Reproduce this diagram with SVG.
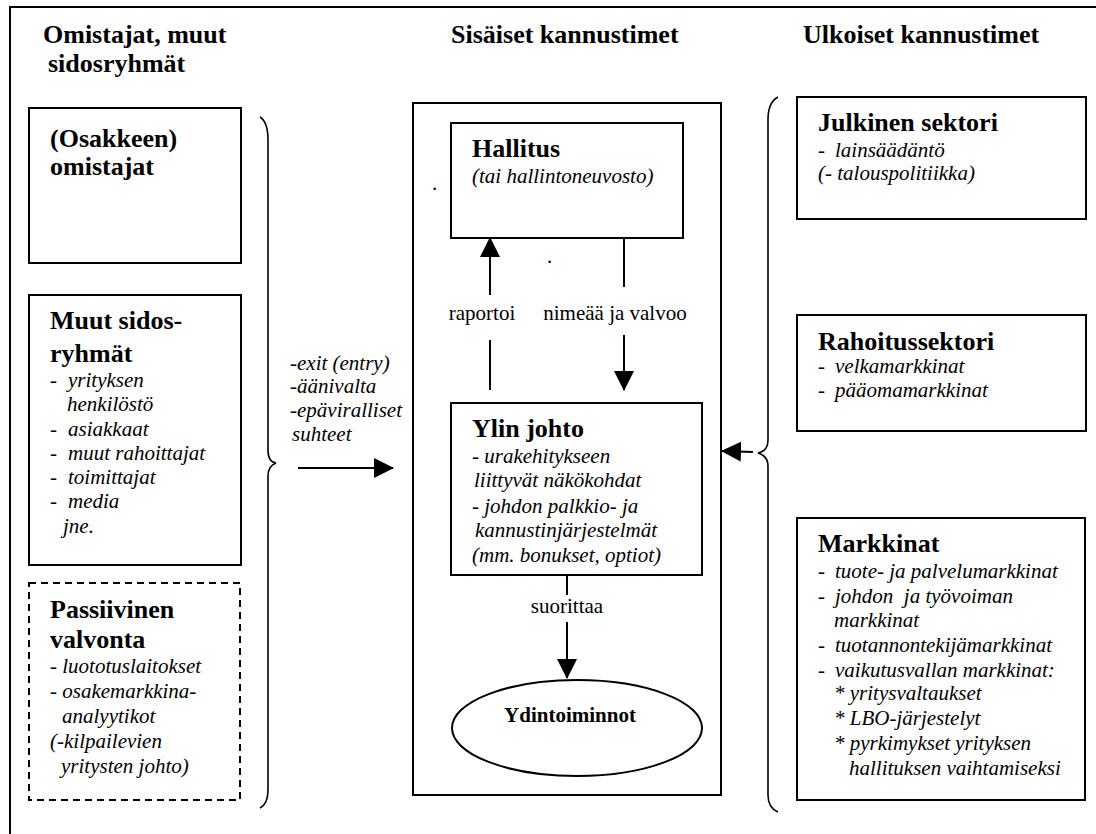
<svg xmlns="http://www.w3.org/2000/svg" width="1096" height="834" viewBox="0 0 1096 834">
<style>
text{font-family:"Liberation Serif","Noto Serif","DejaVu Serif",Tinos,Times,FreeSerif,serif;fill:#000}
.h{font-weight:bold;font-size:26px}
.hs{font-weight:bold;font-size:21px}
.i{font-style:italic;font-size:21px}
.r{font-size:21px}
.box{fill:#fff;stroke:#000;stroke-width:2}
.dash{fill:#fff;stroke:#000;stroke-width:2;stroke-dasharray:7,5}
.ln{fill:none;stroke:#000;stroke-width:2}
.br{fill:none;stroke:#000;stroke-width:1.6}
</style>
<defs>
<marker id="ah" viewBox="0 0 20 20" refX="19" refY="10" markerWidth="20" markerHeight="20" markerUnits="userSpaceOnUse" orient="auto">
<path d="M0,0 L20,10 L0,20 z" fill="#000"/>
</marker>
</defs>
<rect width="1096" height="834" fill="#fff"/>
<g id="frame">
<path class="ln" d="M10,834 L10,7 L1096,7"/>
</g>
<g id="headings">
<text class="h" x="43" y="43">Omistajat, muut</text>
<text class="h" x="48" y="72">sidosryhmät</text>
<text class="h" x="451" y="43">Sisäiset kannustimet</text>
<text class="h" x="803" y="43">Ulkoiset kannustimet</text>
</g>
<g id="osakkeenomistajat">
<rect class="box" x="29" y="108" width="212" height="155"/>
<text class="h" x="50" y="147">(Osakkeen)</text>
<text class="h" x="50" y="175">omistajat</text>
</g>
<g id="muut-sidosryhmat">
<rect class="box" x="29" y="295" width="212" height="270"/>
<text class="h" x="50" y="329">Muut sidos-</text>
<text class="h" x="50" y="362">ryhmät</text>
<text class="i" x="50" y="387">-</text><text class="i" x="68" y="387">yrityksen</text>
<text class="i" x="67" y="411">henkilöstö</text>
<text class="i" x="50" y="436">-</text><text class="i" x="68" y="436">asiakkaat</text>
<text class="i" x="50" y="460">-</text><text class="i" x="68" y="460">muut rahoittajat</text>
<text class="i" x="50" y="484">-</text><text class="i" x="68" y="484">toimittajat</text>
<text class="i" x="50" y="508">-</text><text class="i" x="68" y="508">media</text>
<text class="i" x="63" y="533">jne.</text>
</g>
<g id="passiivinen-valvonta">
<rect class="dash" x="29" y="583" width="211" height="217"/>
<text class="h" x="50" y="618">Passiivinen</text>
<text class="h" x="50" y="648">valvonta</text>
<text class="i" x="50" y="673">- luototuslaitokset</text>
<text class="i" x="50" y="698">- osakemarkkina-</text>
<text class="i" x="62" y="723">analyytikot</text>
<text class="i" x="50" y="748">(-kilpailevien</text>
<text class="i" x="61" y="773">yritysten johto)</text>
</g>
<g id="left-brace">
<path class="br" d="M260,117 Q268,122 268,140 L268,450 Q268,462 276,463 Q268,466 268,476 L268,790 Q268,804 260,808"/>
</g>
<g id="left-label">
<text class="i" x="290" y="370">-exit (entry)</text>
<text class="i" x="290" y="393">-äänivalta</text>
<text class="i" x="290" y="417">-epäviralliset</text>
<text class="i" x="292" y="441">suhteet</text>
</g>
<g id="sisaiset">
<rect class="box" x="413" y="103" width="308" height="692"/>
<text class="r" x="432" y="190" font-size="14">.</text>
<text class="r" x="547" y="263" font-size="12">.</text>
</g>
<g id="hallitus">
<rect class="box" x="451" y="123" width="232" height="115"/>
<text class="h" x="472" y="157">Hallitus</text>
<text class="i" x="472" y="183">(tai hallintoneuvosto)</text>
</g>
<g id="ylin-johto">
<rect class="box" x="451" y="403" width="251" height="172"/>
<text class="h" x="472" y="437">Ylin johto</text>
<text class="i" x="472" y="463">- urakehitykseen</text>
<text class="i" x="474" y="487">liittyvät näkökohdat</text>
<text class="i" x="472" y="513">- johdon palkkio- ja</text>
<text class="i" x="475" y="537">kannustinjärjestelmät</text>
<text class="i" x="472" y="562">(mm. bonukset, optiot)</text>
</g>
<g id="ydintoiminnot">
<ellipse class="box" cx="577" cy="728" rx="125" ry="48"/>
<text class="hs" x="570" y="722" text-anchor="middle">Ydintoiminnot</text>
</g>
<g id="julkinen-sektori">
<rect class="box" x="797" y="97" width="289" height="122"/>
<text class="h" x="818" y="131">Julkinen sektori</text>
<text class="i" x="818" y="157">-</text><text class="i" x="835" y="157">lainsäädäntö</text>
<text class="i" x="818" y="180">(- talouspolitiikka)</text>
</g>
<g id="rahoitussektori">
<rect class="box" x="797" y="315" width="289" height="116"/>
<text class="h" x="818" y="350">Rahoitussektori</text>
<text class="i" x="818" y="373">-</text><text class="i" x="835" y="373">velkamarkkinat</text>
<text class="i" x="818" y="397">-</text><text class="i" x="835" y="397">pääomamarkkinat</text>
</g>
<g id="markkinat">
<rect class="box" x="797" y="518" width="288" height="282"/>
<text class="h" x="818" y="552">Markkinat</text>
<text class="i" x="818" y="578">-</text><text class="i" x="835" y="578">tuote- ja palvelumarkkinat</text>
<text class="i" x="818" y="603">-</text><text class="i" x="835" y="603" xml:space="preserve">johdon  ja työvoiman</text>
<text class="i" x="834" y="627">markkinat</text>
<text class="i" x="818" y="652">-</text><text class="i" x="835" y="652">tuotannontekijämarkkinat</text>
<text class="i" x="818" y="677">-</text><text class="i" x="835" y="677">vaikutusvallan markkinat:</text>
<text class="i" x="834" y="700">* yritysvaltaukset</text>
<text class="i" x="834" y="725">* LBO-järjestelyt</text>
<text class="i" x="834" y="750">* pyrkimykset yrityksen</text>
<text class="i" x="849" y="775">hallituksen vaihtamiseksi</text>
</g>
<g id="right-brace">
<path class="br" d="M778,97 Q768,102 768,120 L768,440 Q768,451 758,453 Q768,456 768,466 L768,795 Q768,808 778,812"/>
</g>
<g id="connectors">
<path class="ln" d="M490,390 L490,340"/>
<path class="ln" d="M490,295 L490,238" marker-end="url(#ah)"/>
<text class="r" x="482" y="320" text-anchor="middle">raportoi</text>
<path class="ln" d="M624,238 L624,287"/>
<path class="ln" d="M624,335 L624,390" marker-end="url(#ah)"/>
<text class="r" x="615" y="320" text-anchor="middle">nimeää ja valvoo</text>
<path class="ln" d="M567,575 L567,595"/>
<path class="ln" d="M567,622 L567,678" marker-end="url(#ah)"/>
<text class="r" x="567" y="613" text-anchor="middle">suorittaa</text>
<path class="ln" d="M298,468 L393,468" marker-end="url(#ah)"/>
<path class="ln" d="M753,452 L722,451" marker-end="url(#ah)"/>
</g>
</svg>
